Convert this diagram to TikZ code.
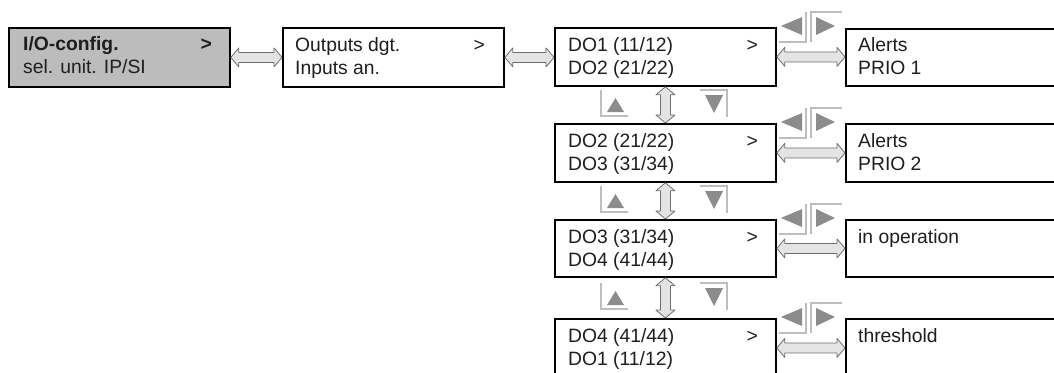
\documentclass[tikz,border=0pt]{standalone}
\usepackage{fontspec}
\setmainfont{Liberation Sans}
\usetikzlibrary{calc}
\definecolor{boxgray}{RGB}{188,188,188}
\definecolor{arrfill}{RGB}{228,228,228}
\definecolor{arrline}{RGB}{110,110,110}
\definecolor{trigray}{RGB}{140,140,140}
\definecolor{brkgray}{RGB}{190,190,190}
\definecolor{txtcol}{RGB}{30,30,30}
\tikzset{
  box/.style={draw=black, line width=1.8pt, rectangle, anchor=north west, inner sep=0pt, minimum height=58pt},
  lbox/.style={box, minimum width=221pt},
  rbox/.style={box, minimum width=230pt},
  txt/.style={anchor=base west, inner sep=0pt, text=txtcol, font=\fontsize{19.3}{22}\selectfont},
  gt/.style={anchor=base east, inner sep=0pt, text=txtcol, font=\fontsize{19.3}{22}\selectfont},
  dblarr/.style={draw=arrline, fill=arrfill, line width=0.8pt, line join=round},
  tri/.style={fill=trigray, draw=none},
  brk/.style={draw=brkgray, line width=1.4pt}
}
\newcommand{\HDArrow}[2]{%
  \draw[dblarr] let \p1=(#1), \p2=(#2) in
    (\x1,\y1) -- (\x1+8pt,\y1+9.5pt) -- (\x1+8pt,\y1+5pt) -- (\x2-8pt,\y1+5pt) -- (\x2-8pt,\y1+9.5pt)
    -- (\x2,\y1) -- (\x2-8pt,\y1-9.5pt) -- (\x2-8pt,\y1-5pt) -- (\x1+8pt,\y1-5pt) -- (\x1+8pt,\y1-9.5pt) -- cycle;}
\newcommand{\VDArrow}[2]{%
  \draw[dblarr] let \p1=(#1), \p2=(#2) in
    (\x1,\y1) -- (\x1+9.5pt,\y1-8pt) -- (\x1+5pt,\y1-8pt) -- (\x1+5pt,\y2+8pt) -- (\x1+9.5pt,\y2+8pt)
    -- (\x1,\y2) -- (\x1-9.5pt,\y2+8pt) -- (\x1-5pt,\y2+8pt) -- (\x1-5pt,\y1-8pt) -- (\x1-9.5pt,\y1-8pt) -- cycle;}
\newcommand{\UpDownIcons}[1]{%
  \draw[brk] (601,#1-14) -- (601,#1+12) -- (628,#1+12);
  \fill[tri] (607,#1+8) -- (624,#1+8) -- (615.5,#1-6) -- cycle;
  \draw[brk] (700,#1-14) -- (727,#1-14) -- (727,#1+13);
  \fill[tri] (705,#1-9) -- (723,#1-9) -- (714,#1+9) -- cycle;}
\newcommand{\LeftRightIcons}[1]{%
  \draw[brk] (779,#1+15) -- (806,#1+15) -- (806,#1-15);
  \fill[tri] (781,#1-1) -- (802,#1-10) -- (802,#1+8) -- cycle;
  \draw[brk] (811,#1+15) -- (811,#1-15) -- (842,#1-15);
  \fill[tri] (816,#1-10) -- (816,#1+8) -- (835,#1-1) -- cycle;}
\begin{document}
\begin{tikzpicture}[x=1pt,y=-1pt]
\path[use as bounding box] (0,0) rectangle (1054,372);
\clip (0,0) rectangle (1054,372);
\fill[white] (0,0) rectangle (1054,372);
% boxes
\node[lbox, fill=boxgray, minimum height=59pt] (b1) at (8,27) {};
\node[lbox, minimum height=59pt] (b2) at (282,27) {};
\node[lbox] (d1) at (554,27) {};
\node[lbox] (d2) at (554,123) {};
\node[lbox, minimum height=57pt] (d3) at (554,219) {};
\node[lbox] (d4) at (554,318) {};
\node[rbox, minimum height=57pt] (r1) at (845,28) {};
\node[rbox] (r2) at (845,123) {};
\node[rbox, minimum height=57pt] (r3) at (845,219) {};
\node[rbox] (r4) at (845,318) {};
% texts
\node[txt] (b1a) at (23,50) {\textbf{I/O-config.}};
\node[txt] (b1b) at (23,73) {sel. unit. IP/SI};
\node[gt] (b1g) at (212,50) {\textbf{>}};
\node[txt] (b2a) at (295,51) {Outputs dgt.};
\node[txt] (b2b) at (295,74) {Inputs an.};
\node[gt] (b2g) at (485,51) {>};
\node[txt] (d1a) at (568,51) {DO1 (11/12)};
\node[txt] (d1b) at (568,74) {DO2 (21/22)};
\node[gt] (d1g) at (758,51) {>};
\node[txt] (d2a) at (568,147) {DO2 (21/22)};
\node[txt] (d2b) at (568,170) {DO3 (31/34)};
\node[gt] (d2g) at (758,147) {>};
\node[txt] (d3a) at (568,243) {DO3 (31/34)};
\node[txt] (d3b) at (568,266) {DO4 (41/44)};
\node[gt] (d3g) at (758,243) {>};
\node[txt] (d4a) at (568,342) {DO4 (41/44)};
\node[txt] (d4b) at (568,365) {DO1 (11/12)};
\node[gt] (d4g) at (758,342) {>};
\node[txt] (r1a) at (858,51) {Alerts};
\node[txt] (r1b) at (858,74) {PRIO 1};
\node[txt] (r2a) at (858,147) {Alerts};
\node[txt] (r2b) at (858,170) {PRIO 2};
\node[txt] (r3a) at (858,243) {in operation};
\node[txt] (r4a) at (858,342) {threshold};
% horizontal arrows
\HDArrow{b1.east}{b2.west}
\HDArrow{b2.east}{d1.west}
\HDArrow{d1.east}{r1.west}
\HDArrow{d2.east}{r2.west}
\HDArrow{d3.east}{r3.west}
\HDArrow{d4.east}{r4.west}
% vertical arrows
\VDArrow{d1.south}{d2.north}
\VDArrow{d2.south}{d3.north}
\VDArrow{d3.south}{d4.north}
% icons
\UpDownIcons{104}
\UpDownIcons{200}
\UpDownIcons{297}
\LeftRightIcons{27}
\LeftRightIcons{123}
\LeftRightIcons{219}
\LeftRightIcons{318}
\end{tikzpicture}
\end{document}
